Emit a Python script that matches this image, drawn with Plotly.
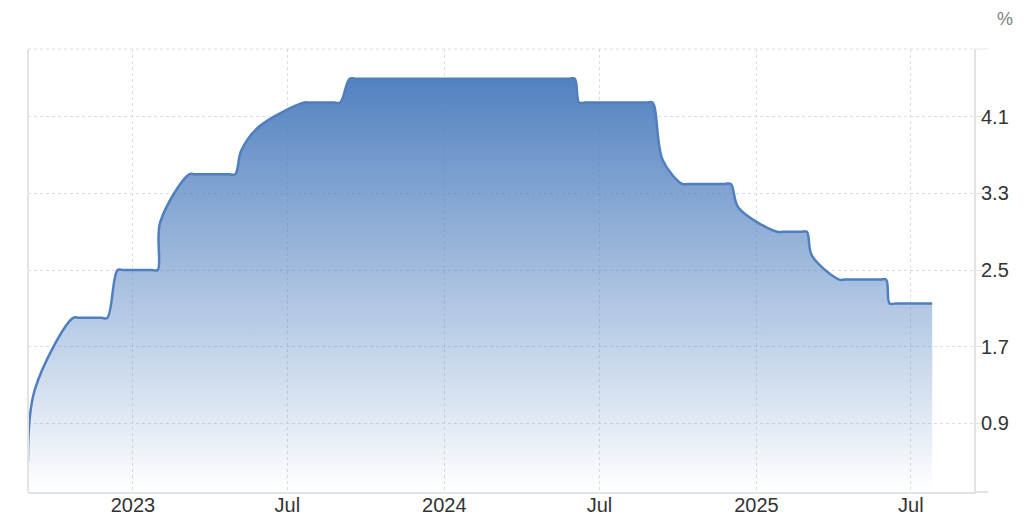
import plotly.graph_objects as go

# Rate data (turning points, values in %)
dates = [
    "2022-08-31", "2022-09-08", "2022-10-23", "2022-10-30", "2022-11-25",
    "2022-12-02", "2022-12-14", "2022-12-21", "2023-01-23", "2023-01-30",
    "2023-02-02", "2023-03-08", "2023-03-15", "2023-04-24", "2023-05-01",
    "2023-05-08", "2023-05-29", "2023-07-21", "2023-07-28", "2023-08-25",
    "2023-09-01", "2023-09-12", "2023-09-19", "2024-05-26", "2024-06-02",
    "2024-06-07", "2024-06-14", "2024-08-25", "2024-09-01", "2024-09-13",
    "2024-10-06", "2024-10-13", "2024-11-25", "2024-12-02", "2024-12-11",
    "2025-01-25", "2025-02-01", "2025-02-22", "2025-03-01", "2025-03-07",
    "2025-04-08", "2025-04-15", "2025-05-26", "2025-06-02", "2025-06-06",
    "2025-06-13", "2025-07-26",
]
values = [
    0.50, 1.25, 2.00, 2.00, 2.00,
    2.00, 2.50, 2.50, 2.50, 2.50,
    3.00, 3.50, 3.50, 3.50, 3.50,
    3.75, 4.00, 4.25, 4.25, 4.25,
    4.25, 4.50, 4.50, 4.50, 4.50,
    4.25, 4.25, 4.25, 4.25, 3.65,
    3.40, 3.40, 3.40, 3.40, 3.15,
    2.90, 2.90, 2.90, 2.90, 2.65,
    2.40, 2.40, 2.40, 2.40, 2.15,
    2.15, 2.15,
]

x_tick_vals = ["2023-01-01", "2023-07-01", "2024-01-01", "2024-07-01", "2025-01-01", "2025-07-01"]
x_tick_text = ["2023", "Jul", "2024", "Jul", "2025", "Jul"]
y_tick_vals = [0.9, 1.7, 2.5, 3.3, 4.1]
y_tick_text = ["0.9", "1.7", "2.5", "3.3", "4.1"]

LINE = "rgb(79,127,191)"
AXIS = "#e3e3e3"
GRID = "#dcdcdc"

fig = go.Figure()
fig.add_trace(go.Scatter(
    x=dates, y=values, mode="lines",
    line=dict(color=LINE, width=2.5, shape="spline", smoothing=1.0),
    fill="tozeroy",
    fillgradient=dict(
        type="vertical",
        colorscale=[[0, "rgba(79,127,191,0.0)"], [1, "rgba(79,127,191,0.98)"]],
        start=0.18, stop=4.5,
    ),
    hoverinfo="x+y",
    showlegend=False,
))

fig.update_layout(
    width=1028, height=528,
    margin=dict(l=28, r=54, t=49, b=36, autoexpand=False),
    paper_bgcolor="white", plot_bgcolor="white",
    font=dict(family="Liberation Sans, Arial, sans-serif", size=20, color="#333333"),
    xaxis=dict(
        type="date",
        range=["2022-08-31", "2025-09-13"],
        tickmode="array", tickvals=x_tick_vals, ticktext=x_tick_text,
        showgrid=True, gridcolor=GRID, griddash="dot", gridwidth=1,
        showline=True, linecolor=AXIS, linewidth=2,
        ticks="", zeroline=False, automargin=False,
        ticklabelstandoff=-6,
        tickfont=dict(size=20, color="#333333"),
    ),
    yaxis=dict(
        side="right",
        range=[0.18, 4.81],
        tickmode="array", tickvals=y_tick_vals, ticktext=y_tick_text,
        showgrid=True, gridcolor=GRID, griddash="dot", gridwidth=1,
        showline=True, linecolor=AXIS, linewidth=2,
        ticks="outside", ticklen=6, tickcolor=AXIS, tickwidth=1,
        ticklabelstandoff=-5,
        zeroline=False, automargin=False,
        tickfont=dict(size=20, color="#333333"),
    ),
    shapes=[
        dict(type="line", xref="paper", yref="paper", x0=0, x1=0, y0=0, y1=1,
             line=dict(color=AXIS, width=2)),
        dict(type="line", xref="paper", yref="paper", x0=0, x1=1, y0=1, y1=1,
             line=dict(color=GRID, width=1, dash="dot")),
        dict(type="line", xref="paper", yref="paper", x0=1, x1=1.0148, y0=1, y1=1,
             line=dict(color=AXIS, width=1)),
        dict(type="line", xref="paper", yref="paper", x0=1, x1=1.0148, y0=0, y1=0,
             line=dict(color=AXIS, width=2)),
    ],
    annotations=[
        dict(text="%", xref="paper", yref="paper", x=1.0328, y=1.068,
             showarrow=False, xanchor="center", yanchor="middle",
             font=dict(size=18, color="#7f7f7f")),
    ],
)

fig.write_html("out.html", config={"displayModeBar": False},
               post_script="document.body.style.margin='0px';document.body.style.overflow='hidden';")
